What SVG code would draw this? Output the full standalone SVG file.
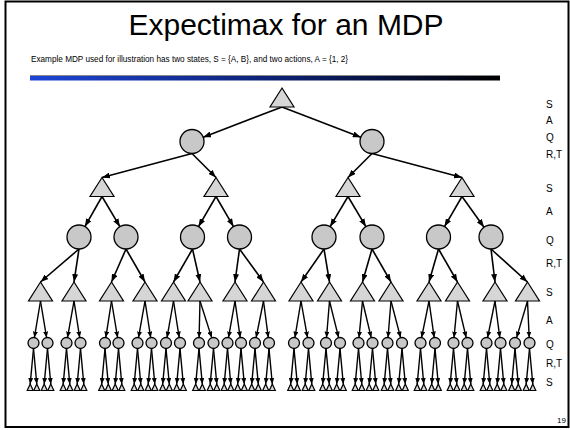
<svg xmlns="http://www.w3.org/2000/svg" xmlns:xlink="http://www.w3.org/1999/xlink" width="570" height="430" viewBox="0 0 570 430">
<style>
.tri{fill:#d6d6d6;stroke:#000;stroke-width:1.2}
.ch{fill:#c8c8c8;stroke:#000;stroke-width:1.3}
.e{stroke:#000;stroke-width:1.6;fill:none;marker-end:url(#ah)}
.es{stroke:#000;stroke-width:1.4;fill:none;marker-end:url(#ahs)}
.lbl{font-family:"Liberation Sans",Arial,sans-serif;font-size:10px;fill:#000}
</style>
<defs>
<marker id="ah" markerUnits="userSpaceOnUse" markerWidth="8" markerHeight="6" refX="8" refY="3" orient="auto"><path d="M0,0 L8,3 L0,6 Z" fill="#000"/></marker>
<marker id="ahs" markerUnits="userSpaceOnUse" markerWidth="6" markerHeight="5" refX="6" refY="2.5" orient="auto"><path d="M0,0 L6,2.5 L0,5 Z" fill="#000"/></marker>
<path id="tri" class="tri" d="M0,0 L12,19 L-12,19 Z"/>
<path id="tris" class="tri" d="M0,0 L3,6.5 L-3,6.5 Z"/>
<linearGradient id="bar" x1="0" y1="0" x2="1" y2="0"><stop offset="0" stop-color="#1d44d6"/><stop offset="0.55" stop-color="#0b1f6e"/><stop offset="1" stop-color="#000"/></linearGradient>
</defs>
<rect x="0" y="0" width="570" height="430" fill="#fff"/>
<rect x="5.5" y="1.5" width="563" height="425.5" fill="none" stroke="#000" stroke-width="2"/>
<text x="286" y="35" text-anchor="middle" font-family="'Liberation Sans',Arial,sans-serif" font-size="30">Expectimax for an MDP</text>
<text x="31" y="62" font-family="'Liberation Sans',Arial,sans-serif" font-size="8.2">Example MDP used for illustration has two states, S = {A, B}, and two actions, A = {1, 2}</text>
<line x1="30" y1="75.5" x2="500" y2="75.5" stroke="#8a8a8a" stroke-width="1"/>
<rect x="30" y="76" width="470" height="4.5" fill="url(#bar)"/>
<g id="levels">
<text class="lbl" x="546" y="107.5">S</text>
<text class="lbl" x="546" y="123.5">A</text>
<text class="lbl" x="546" y="140.5">Q</text>
<text class="lbl" x="546" y="157.5">R,T</text>
<text class="lbl" x="546" y="191.5">S</text>
<text class="lbl" x="546" y="215">A</text>
<text class="lbl" x="546" y="243.5">Q</text>
<text class="lbl" x="546" y="266.5">R,T</text>
<text class="lbl" x="546" y="296">S</text>
<text class="lbl" x="546" y="323.5">A</text>
<text class="lbl" x="546" y="348">Q</text>
<text class="lbl" x="546" y="366.5">R,T</text>
<text class="lbl" x="546" y="386">S</text>
</g>
<text x="566" y="423" text-anchor="end" font-family="'Liberation Sans',Arial,sans-serif" font-size="8">19</text>
<g id="connectors">
<line class="e" x1="282" y1="107" x2="203.2" y2="137.2"/>
<line class="e" x1="282" y1="107" x2="360.8" y2="137.2"/>
<line class="e" x1="192" y1="153.5" x2="102" y2="177.5"/>
<line class="e" x1="192" y1="153.5" x2="216" y2="177.5"/>
<line class="e" x1="372" y1="153.5" x2="348" y2="177.5"/>
<line class="e" x1="372" y1="153.5" x2="462" y2="177.5"/>
<line class="e" x1="102" y1="196.5" x2="84.9" y2="226.6"/>
<line class="e" x1="102" y1="196.5" x2="119.9" y2="226.7"/>
<line class="e" x1="216" y1="196.5" x2="198.5" y2="226.6"/>
<line class="e" x1="216" y1="196.5" x2="233.5" y2="226.6"/>
<line class="e" x1="348" y1="196.5" x2="330.1" y2="226.7"/>
<line class="e" x1="348" y1="196.5" x2="365.9" y2="226.7"/>
<line class="e" x1="462" y1="196.5" x2="444.5" y2="226.6"/>
<line class="e" x1="462" y1="196.5" x2="484" y2="227.2"/>
<line class="e" x1="79" y1="249" x2="40.5" y2="282"/>
<line class="e" x1="79" y1="249" x2="74" y2="282"/>
<line class="e" x1="126" y1="249" x2="111.5" y2="282"/>
<line class="e" x1="126" y1="249" x2="145" y2="282"/>
<line class="e" x1="192.5" y1="249" x2="173.5" y2="282"/>
<line class="e" x1="192.5" y1="249" x2="200" y2="282"/>
<line class="e" x1="239.5" y1="249" x2="235" y2="282"/>
<line class="e" x1="239.5" y1="249" x2="263.5" y2="282"/>
<line class="e" x1="324" y1="249" x2="301" y2="282"/>
<line class="e" x1="324" y1="249" x2="329.5" y2="282"/>
<line class="e" x1="372" y1="249" x2="362.5" y2="282"/>
<line class="e" x1="372" y1="249" x2="391" y2="282"/>
<line class="e" x1="438.5" y1="249" x2="429" y2="282"/>
<line class="e" x1="438.5" y1="249" x2="457.5" y2="282"/>
<line class="e" x1="491" y1="249" x2="495" y2="282"/>
<line class="e" x1="491" y1="249" x2="527.5" y2="282"/>
<line class="es" x1="40.5" y1="301" x2="34.4" y2="337.6"/>
<line class="es" x1="40.5" y1="301" x2="46.6" y2="337.6"/>
<line class="es" x1="74" y1="301" x2="67.5" y2="337.6"/>
<line class="es" x1="74" y1="301" x2="79.7" y2="337.6"/>
<line class="es" x1="111.5" y1="301" x2="105.8" y2="337.6"/>
<line class="es" x1="111.5" y1="301" x2="117.6" y2="337.6"/>
<line class="es" x1="145" y1="301" x2="138.5" y2="337.6"/>
<line class="es" x1="145" y1="301" x2="150.7" y2="337.6"/>
<line class="es" x1="173.5" y1="301" x2="167" y2="337.6"/>
<line class="es" x1="173.5" y1="301" x2="179.2" y2="337.6"/>
<line class="es" x1="200" y1="301" x2="199.1" y2="337.6"/>
<line class="es" x1="200" y1="301" x2="211.7" y2="337.6"/>
<line class="es" x1="235" y1="301" x2="228.5" y2="337.6"/>
<line class="es" x1="235" y1="301" x2="240.2" y2="337.6"/>
<line class="es" x1="263.5" y1="301" x2="256.1" y2="337.6"/>
<line class="es" x1="263.5" y1="301" x2="268.3" y2="337.6"/>
<line class="es" x1="301" y1="301" x2="294.9" y2="337.6"/>
<line class="es" x1="301" y1="301" x2="307.5" y2="337.6"/>
<line class="es" x1="329.5" y1="301" x2="326.5" y2="337.6"/>
<line class="es" x1="329.5" y1="301" x2="338.6" y2="337.6"/>
<line class="es" x1="362.5" y1="301" x2="359" y2="337.6"/>
<line class="es" x1="362.5" y1="301" x2="371.2" y2="337.6"/>
<line class="es" x1="391" y1="301" x2="388" y2="337.6"/>
<line class="es" x1="391" y1="301" x2="400.6" y2="337.6"/>
<line class="es" x1="429" y1="301" x2="421.6" y2="337.6"/>
<line class="es" x1="429" y1="301" x2="434.2" y2="337.6"/>
<line class="es" x1="457.5" y1="301" x2="454" y2="337.6"/>
<line class="es" x1="457.5" y1="301" x2="466.2" y2="337.6"/>
<line class="es" x1="495" y1="301" x2="487.6" y2="337.6"/>
<line class="es" x1="495" y1="301" x2="499.8" y2="337.6"/>
<line class="es" x1="527.5" y1="301" x2="516.6" y2="337.6"/>
<line class="es" x1="527.5" y1="301" x2="529.2" y2="337.6"/>
<line class="es" x1="33.5" y1="348.5" x2="30.2" y2="384"/><line class="es" x1="33.5" y1="348.5" x2="36.8" y2="384"/>
<line class="es" x1="47.5" y1="348.5" x2="44.2" y2="384"/><line class="es" x1="47.5" y1="348.5" x2="50.8" y2="384"/>
<line class="es" x1="66.5" y1="348.5" x2="63.2" y2="384"/><line class="es" x1="66.5" y1="348.5" x2="69.8" y2="384"/>
<line class="es" x1="80.5" y1="348.5" x2="77.2" y2="384"/><line class="es" x1="80.5" y1="348.5" x2="83.8" y2="384"/>
<line class="es" x1="105" y1="348.5" x2="101.7" y2="384"/><line class="es" x1="105" y1="348.5" x2="108.3" y2="384"/>
<line class="es" x1="118.5" y1="348.5" x2="115.2" y2="384"/><line class="es" x1="118.5" y1="348.5" x2="121.8" y2="384"/>
<line class="es" x1="137.5" y1="348.5" x2="134.2" y2="384"/><line class="es" x1="137.5" y1="348.5" x2="140.8" y2="384"/>
<line class="es" x1="151.5" y1="348.5" x2="148.2" y2="384"/><line class="es" x1="151.5" y1="348.5" x2="154.8" y2="384"/>
<line class="es" x1="166" y1="348.5" x2="162.7" y2="384"/><line class="es" x1="166" y1="348.5" x2="169.3" y2="384"/>
<line class="es" x1="180" y1="348.5" x2="176.7" y2="384"/><line class="es" x1="180" y1="348.5" x2="183.3" y2="384"/>
<line class="es" x1="199" y1="348.5" x2="195.7" y2="384"/><line class="es" x1="199" y1="348.5" x2="202.3" y2="384"/>
<line class="es" x1="213.5" y1="348.5" x2="210.2" y2="384"/><line class="es" x1="213.5" y1="348.5" x2="216.8" y2="384"/>
<line class="es" x1="227.5" y1="348.5" x2="224.2" y2="384"/><line class="es" x1="227.5" y1="348.5" x2="230.8" y2="384"/>
<line class="es" x1="241" y1="348.5" x2="237.7" y2="384"/><line class="es" x1="241" y1="348.5" x2="244.3" y2="384"/>
<line class="es" x1="255" y1="348.5" x2="251.7" y2="384"/><line class="es" x1="255" y1="348.5" x2="258.3" y2="384"/>
<line class="es" x1="269" y1="348.5" x2="265.7" y2="384"/><line class="es" x1="269" y1="348.5" x2="272.3" y2="384"/>
<line class="es" x1="294" y1="348.5" x2="290.7" y2="384"/><line class="es" x1="294" y1="348.5" x2="297.3" y2="384"/>
<line class="es" x1="308.5" y1="348.5" x2="305.2" y2="384"/><line class="es" x1="308.5" y1="348.5" x2="311.8" y2="384"/>
<line class="es" x1="326" y1="348.5" x2="322.7" y2="384"/><line class="es" x1="326" y1="348.5" x2="329.3" y2="384"/>
<line class="es" x1="340" y1="348.5" x2="336.7" y2="384"/><line class="es" x1="340" y1="348.5" x2="343.3" y2="384"/>
<line class="es" x1="358.5" y1="348.5" x2="355.2" y2="384"/><line class="es" x1="358.5" y1="348.5" x2="361.8" y2="384"/>
<line class="es" x1="372.5" y1="348.5" x2="369.2" y2="384"/><line class="es" x1="372.5" y1="348.5" x2="375.8" y2="384"/>
<line class="es" x1="387.5" y1="348.5" x2="384.2" y2="384"/><line class="es" x1="387.5" y1="348.5" x2="390.8" y2="384"/>
<line class="es" x1="402" y1="348.5" x2="398.7" y2="384"/><line class="es" x1="402" y1="348.5" x2="405.3" y2="384"/>
<line class="es" x1="420.5" y1="348.5" x2="417.2" y2="384"/><line class="es" x1="420.5" y1="348.5" x2="423.8" y2="384"/>
<line class="es" x1="435" y1="348.5" x2="431.7" y2="384"/><line class="es" x1="435" y1="348.5" x2="438.3" y2="384"/>
<line class="es" x1="453.5" y1="348.5" x2="450.2" y2="384"/><line class="es" x1="453.5" y1="348.5" x2="456.8" y2="384"/>
<line class="es" x1="467.5" y1="348.5" x2="464.2" y2="384"/><line class="es" x1="467.5" y1="348.5" x2="470.8" y2="384"/>
<line class="es" x1="486.5" y1="348.5" x2="483.2" y2="384"/><line class="es" x1="486.5" y1="348.5" x2="489.8" y2="384"/>
<line class="es" x1="500.5" y1="348.5" x2="497.2" y2="384"/><line class="es" x1="500.5" y1="348.5" x2="503.8" y2="384"/>
<line class="es" x1="515" y1="348.5" x2="511.7" y2="384"/><line class="es" x1="515" y1="348.5" x2="518.3" y2="384"/>
<line class="es" x1="529.5" y1="348.5" x2="526.2" y2="384"/><line class="es" x1="529.5" y1="348.5" x2="532.8" y2="384"/>
</g>
<g id="s0"><use href="#tri" x="282" y="88"/></g>
<g id="q1a"><circle class="ch" cx="192" cy="141.5" r="12"/></g>
<g id="q1b"><circle class="ch" cx="372" cy="141.5" r="12"/></g>
<g id="s2a"><use href="#tri" x="102" y="177.5"/></g>
<g id="s2b"><use href="#tri" x="216" y="177.5"/></g>
<g id="s2c"><use href="#tri" x="348" y="177.5"/></g>
<g id="s2d"><use href="#tri" x="462" y="177.5"/></g>
<g id="q3a"><circle class="ch" cx="79" cy="237" r="12"/></g>
<g id="q3b"><circle class="ch" cx="126" cy="237" r="12"/></g>
<g id="q3c"><circle class="ch" cx="192.5" cy="237" r="12"/></g>
<g id="q3d"><circle class="ch" cx="239.5" cy="237" r="12"/></g>
<g id="q3e"><circle class="ch" cx="324" cy="237" r="12"/></g>
<g id="q3f"><circle class="ch" cx="372" cy="237" r="12"/></g>
<g id="q3g"><circle class="ch" cx="438.5" cy="237" r="12"/></g>
<g id="q3h"><circle class="ch" cx="491" cy="237" r="12"/></g>
<g id="s4a"><use href="#tri" x="40.5" y="282"/></g>
<g id="s4b"><use href="#tri" x="74" y="282"/></g>
<g id="s4c"><use href="#tri" x="111.5" y="282"/></g>
<g id="s4d"><use href="#tri" x="145" y="282"/></g>
<g id="s4e"><use href="#tri" x="173.5" y="282"/></g>
<g id="s4f"><use href="#tri" x="200" y="282"/></g>
<g id="s4g"><use href="#tri" x="235" y="282"/></g>
<g id="s4h"><use href="#tri" x="263.5" y="282"/></g>
<g id="s4i"><use href="#tri" x="301" y="282"/></g>
<g id="s4j"><use href="#tri" x="329.5" y="282"/></g>
<g id="s4k"><use href="#tri" x="362.5" y="282"/></g>
<g id="s4l"><use href="#tri" x="391" y="282"/></g>
<g id="s4m"><use href="#tri" x="429" y="282"/></g>
<g id="s4n"><use href="#tri" x="457.5" y="282"/></g>
<g id="s4o"><use href="#tri" x="495" y="282"/></g>
<g id="s4p"><use href="#tri" x="527.5" y="282"/></g>
<g id="q5">
<g id="q5_01"><circle class="ch" cx="33.5" cy="343" r="5.5"/></g>
<g id="q5_02"><circle class="ch" cx="47.5" cy="343" r="5.5"/></g>
<g id="q5_03"><circle class="ch" cx="66.5" cy="343" r="5.5"/></g>
<g id="q5_04"><circle class="ch" cx="80.5" cy="343" r="5.5"/></g>
<g id="q5_05"><circle class="ch" cx="105" cy="343" r="5.5"/></g>
<g id="q5_06"><circle class="ch" cx="118.5" cy="343" r="5.5"/></g>
<g id="q5_07"><circle class="ch" cx="137.5" cy="343" r="5.5"/></g>
<g id="q5_08"><circle class="ch" cx="151.5" cy="343" r="5.5"/></g>
<g id="q5_09"><circle class="ch" cx="166" cy="343" r="5.5"/></g>
<g id="q5_10"><circle class="ch" cx="180" cy="343" r="5.5"/></g>
<g id="q5_11"><circle class="ch" cx="199" cy="343" r="5.5"/></g>
<g id="q5_12"><circle class="ch" cx="213.5" cy="343" r="5.5"/></g>
<g id="q5_13"><circle class="ch" cx="227.5" cy="343" r="5.5"/></g>
<g id="q5_14"><circle class="ch" cx="241" cy="343" r="5.5"/></g>
<g id="q5_15"><circle class="ch" cx="255" cy="343" r="5.5"/></g>
<g id="q5_16"><circle class="ch" cx="269" cy="343" r="5.5"/></g>
<g id="q5_17"><circle class="ch" cx="294" cy="343" r="5.5"/></g>
<g id="q5_18"><circle class="ch" cx="308.5" cy="343" r="5.5"/></g>
<g id="q5_19"><circle class="ch" cx="326" cy="343" r="5.5"/></g>
<g id="q5_20"><circle class="ch" cx="340" cy="343" r="5.5"/></g>
<g id="q5_21"><circle class="ch" cx="358.5" cy="343" r="5.5"/></g>
<g id="q5_22"><circle class="ch" cx="372.5" cy="343" r="5.5"/></g>
<g id="q5_23"><circle class="ch" cx="387.5" cy="343" r="5.5"/></g>
<g id="q5_24"><circle class="ch" cx="402" cy="343" r="5.5"/></g>
<g id="q5_25"><circle class="ch" cx="420.5" cy="343" r="5.5"/></g>
<g id="q5_26"><circle class="ch" cx="435" cy="343" r="5.5"/></g>
<g id="q5_27"><circle class="ch" cx="453.5" cy="343" r="5.5"/></g>
<g id="q5_28"><circle class="ch" cx="467.5" cy="343" r="5.5"/></g>
<g id="q5_29"><circle class="ch" cx="486.5" cy="343" r="5.5"/></g>
<g id="q5_30"><circle class="ch" cx="500.5" cy="343" r="5.5"/></g>
<g id="q5_31"><circle class="ch" cx="515" cy="343" r="5.5"/></g>
<g id="q5_32"><circle class="ch" cx="529.5" cy="343" r="5.5"/></g>
</g>
<g id="s6">
<g id="s6_01"><use href="#tris" x="30.2" y="384"/></g><g id="s6_02"><use href="#tris" x="36.8" y="384"/></g>
<g id="s6_03"><use href="#tris" x="44.2" y="384"/></g><g id="s6_04"><use href="#tris" x="50.8" y="384"/></g>
<g id="s6_05"><use href="#tris" x="63.2" y="384"/></g><g id="s6_06"><use href="#tris" x="69.8" y="384"/></g>
<g id="s6_07"><use href="#tris" x="77.2" y="384"/></g><g id="s6_08"><use href="#tris" x="83.8" y="384"/></g>
<g id="s6_09"><use href="#tris" x="101.7" y="384"/></g><g id="s6_10"><use href="#tris" x="108.3" y="384"/></g>
<g id="s6_11"><use href="#tris" x="115.2" y="384"/></g><g id="s6_12"><use href="#tris" x="121.8" y="384"/></g>
<g id="s6_13"><use href="#tris" x="134.2" y="384"/></g><g id="s6_14"><use href="#tris" x="140.8" y="384"/></g>
<g id="s6_15"><use href="#tris" x="148.2" y="384"/></g><g id="s6_16"><use href="#tris" x="154.8" y="384"/></g>
<g id="s6_17"><use href="#tris" x="162.7" y="384"/></g><g id="s6_18"><use href="#tris" x="169.3" y="384"/></g>
<g id="s6_19"><use href="#tris" x="176.7" y="384"/></g><g id="s6_20"><use href="#tris" x="183.3" y="384"/></g>
<g id="s6_21"><use href="#tris" x="195.7" y="384"/></g><g id="s6_22"><use href="#tris" x="202.3" y="384"/></g>
<g id="s6_23"><use href="#tris" x="210.2" y="384"/></g><g id="s6_24"><use href="#tris" x="216.8" y="384"/></g>
<g id="s6_25"><use href="#tris" x="224.2" y="384"/></g><g id="s6_26"><use href="#tris" x="230.8" y="384"/></g>
<g id="s6_27"><use href="#tris" x="237.7" y="384"/></g><g id="s6_28"><use href="#tris" x="244.3" y="384"/></g>
<g id="s6_29"><use href="#tris" x="251.7" y="384"/></g><g id="s6_30"><use href="#tris" x="258.3" y="384"/></g>
<g id="s6_31"><use href="#tris" x="265.7" y="384"/></g><g id="s6_32"><use href="#tris" x="272.3" y="384"/></g>
<g id="s6_33"><use href="#tris" x="290.7" y="384"/></g><g id="s6_34"><use href="#tris" x="297.3" y="384"/></g>
<g id="s6_35"><use href="#tris" x="305.2" y="384"/></g><g id="s6_36"><use href="#tris" x="311.8" y="384"/></g>
<g id="s6_37"><use href="#tris" x="322.7" y="384"/></g><g id="s6_38"><use href="#tris" x="329.3" y="384"/></g>
<g id="s6_39"><use href="#tris" x="336.7" y="384"/></g><g id="s6_40"><use href="#tris" x="343.3" y="384"/></g>
<g id="s6_41"><use href="#tris" x="355.2" y="384"/></g><g id="s6_42"><use href="#tris" x="361.8" y="384"/></g>
<g id="s6_43"><use href="#tris" x="369.2" y="384"/></g><g id="s6_44"><use href="#tris" x="375.8" y="384"/></g>
<g id="s6_45"><use href="#tris" x="384.2" y="384"/></g><g id="s6_46"><use href="#tris" x="390.8" y="384"/></g>
<g id="s6_47"><use href="#tris" x="398.7" y="384"/></g><g id="s6_48"><use href="#tris" x="405.3" y="384"/></g>
<g id="s6_49"><use href="#tris" x="417.2" y="384"/></g><g id="s6_50"><use href="#tris" x="423.8" y="384"/></g>
<g id="s6_51"><use href="#tris" x="431.7" y="384"/></g><g id="s6_52"><use href="#tris" x="438.3" y="384"/></g>
<g id="s6_53"><use href="#tris" x="450.2" y="384"/></g><g id="s6_54"><use href="#tris" x="456.8" y="384"/></g>
<g id="s6_55"><use href="#tris" x="464.2" y="384"/></g><g id="s6_56"><use href="#tris" x="470.8" y="384"/></g>
<g id="s6_57"><use href="#tris" x="483.2" y="384"/></g><g id="s6_58"><use href="#tris" x="489.8" y="384"/></g>
<g id="s6_59"><use href="#tris" x="497.2" y="384"/></g><g id="s6_60"><use href="#tris" x="503.8" y="384"/></g>
<g id="s6_61"><use href="#tris" x="511.7" y="384"/></g><g id="s6_62"><use href="#tris" x="518.3" y="384"/></g>
<g id="s6_63"><use href="#tris" x="526.2" y="384"/></g><g id="s6_64"><use href="#tris" x="532.8" y="384"/></g>
</g>
</svg>
